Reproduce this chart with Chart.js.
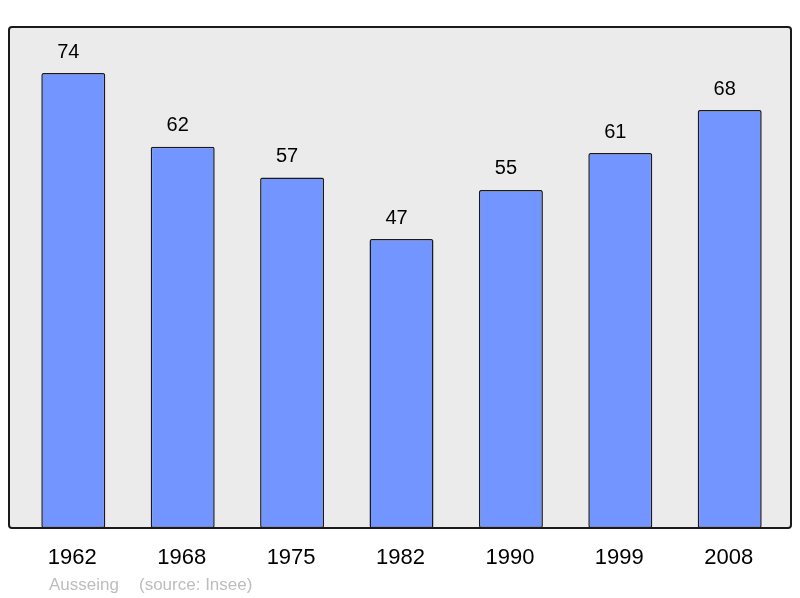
<!DOCTYPE html>
<html>
<head>
<meta charset="utf-8">
<script src="https://cdn.jsdelivr.net/npm/chart.js@4/dist/chart.umd.min.js"></script>
<style>
html,body{margin:0;padding:0;background:#fff;}
#wrap{width:800px;height:598px;position:relative;}
</style>
</head>
<body>
<div id="wrap"><canvas id="c" width="800" height="598"></canvas></div>
<script>
const years = ['1962','1968','1975','1982','1990','1999','2008'];
const population = [74, 62, 57, 47, 55, 61, 68];
const placeName = 'Ausseing';
const sourceText = '(source: Insee)';

const FONT = '"Liberation Sans", Arial, sans-serif';

function roundRect(ctx, x, y, w, h, r) {
  ctx.beginPath();
  ctx.moveTo(x + r, y);
  ctx.lineTo(x + w - r, y);
  ctx.arcTo(x + w, y, x + w, y + r, r);
  ctx.lineTo(x + w, y + h - r);
  ctx.arcTo(x + w, y + h, x + w - r, y + h, r);
  ctx.lineTo(x + r, y + h);
  ctx.arcTo(x, y + h, x, y + h - r, r);
  ctx.lineTo(x, y + r);
  ctx.arcTo(x, y, x + r, y, r);
  ctx.closePath();
}

const decor = {
  id: 'decor',
  beforeDraw(chart) {
    const ctx = chart.ctx;
    ctx.save();
    roundRect(ctx, 9, 27, 782, 501, 3);
    ctx.fillStyle = '#ebebeb';
    ctx.fill();
    ctx.restore();
  },
  afterDatasetsDraw(chart) {
    const ctx = chart.ctx;
    ctx.save();
    roundRect(ctx, 9, 27, 782, 501, 3);
    ctx.lineWidth = 2;
    ctx.strokeStyle = '#1a1a1a';
    ctx.stroke();
    const xs = chart.scales.x, ys = chart.scales.y;
    ctx.fillStyle = '#000';
    ctx.textAlign = 'center';
    ctx.textBaseline = 'middle';
    ctx.font = '20px ' + FONT;
    population.forEach((v, i) => {
      const x = xs.getPixelForValue(i);
      ctx.fillText(String(v), x - 5, ys.getPixelForValue(v) - 21);
    });
    ctx.font = '22px ' + FONT;
    years.forEach((y, i) => {
      ctx.fillText(y, xs.getPixelForValue(i) - 1, 558);
    });
    ctx.fillStyle = '#bdbdbd';
    ctx.textAlign = 'left';
    ctx.font = '17px ' + FONT;
    ctx.fillText(placeName, 49, 585);
    ctx.fillText(sourceText, 139, 585);
    ctx.restore();
  }
};

new Chart(document.getElementById('c'), {
  type: 'bar',
  data: {
    labels: years,
    datasets: [{
      data: population,
      backgroundColor: '#7295ff',
      borderColor: '#1a1a1a',
      borderWidth: 1.5,
      borderRadius: 2,
      borderSkipped: false,
      categoryPercentage: 1,
      barPercentage: 0.585
    }]
  },
  options: {
    responsive: false,
    animation: false,
    events: [],
    layout: { padding: { left: 18.6, right: 15.6, top: 27, bottom: 70 } },
    plugins: { legend: { display: false }, tooltip: { enabled: false } },
    scales: {
      x: { display: false },
      y: { display: false, min: 0, max: 81.5 }
    }
  },
  plugins: [decor]
});
</script>
</body>
</html>
